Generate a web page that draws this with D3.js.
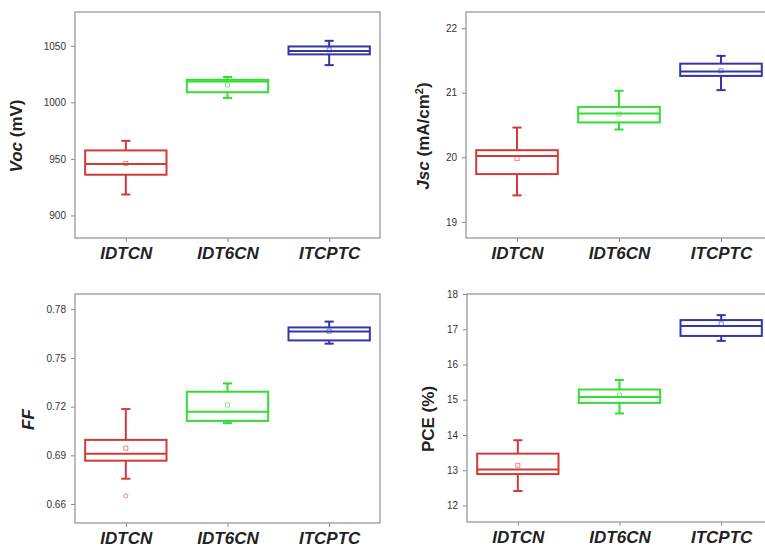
<!DOCTYPE html>
<html>
<head>
<meta charset="utf-8">
<script src="https://cdn.jsdelivr.net/npm/d3@7"></script>
<style>
  body { margin: 0; background: #fff; }
  svg { display: block; font-family: "Liberation Sans", Arial, sans-serif; }
</style>
</head>
<body>
<div id="chart"></div>
<script>
// Data: [whisker low, Q1, median, Q3, whisker high] per group
const groups = ["IDTCN", "IDT6CN", "ITCPTC"];
const colors = ["#d23a3a", "#33dd33", "#3535a8"];

const vocBoxes = [[918.5, 936, 945.5, 957.5, 966], [1004, 1009, 1018.5, 1020, 1022.5], [1033, 1042.5, 1045.5, 1049.5, 1054.5]];
const vocMeans = [946, 1015.5, 1046.5];
const vocTicks = [900, 950, 1000, 1050];

const jscBoxes = [[19.41, 19.74, 20.02, 20.11, 20.46], [20.43, 20.54, 20.68, 20.78, 21.03], [21.04, 21.26, 21.33, 21.45, 21.57]];
const jscMeans = [19.98, 20.67, 21.34];
const jscTicks = [19, 20, 21, 22];

const ffBoxes = [[0.6756, 0.6867, 0.691, 0.6995, 0.7185], [0.7098, 0.7112, 0.7169, 0.7292, 0.7343], [0.7588, 0.7608, 0.7663, 0.7688, 0.7724]];
const ffMeans = [0.6944, 0.721, 0.7665];
const ffOutliers = [[0, 0.665]];
const ffTicks = [0.66, 0.69, 0.72, 0.75, 0.78];

const pceBoxes = [[12.41, 12.89, 13.02, 13.47, 13.85], [14.61, 14.91, 15.08, 15.29, 15.56], [16.67, 16.81, 17.09, 17.26, 17.40]];
const pceMeans = [13.14, 15.13, 17.15];
const pceTicks = [12, 13, 14, 15, 16, 17, 18];

const svg = d3.select("#chart").append("svg")
  .attr("width", 765)
  .attr("height", 549);

// one panel = frame + axes + boxes
function drawPanel(p) {
  const g = svg.append("g");

  const x = d3.scaleLinear().domain([0.5, 3.5]).range([p.left, p.right]);
  const y = d3.scaleLinear().domain(p.domain).range([p.bottom, p.top]);

  // y axis
  const ya = g.append("g")
    .attr("transform", `translate(${p.left},0)`)
    .call(d3.axisLeft(y).tickValues(p.ticks).tickSize(4).tickPadding(5).tickFormat(p.fmt));
  ya.select(".domain").remove();
  ya.selectAll("line").attr("stroke", "#888");
  ya.selectAll("text").attr("font-size", 10).attr("fill", "#333");

  // x axis
  const xa = g.append("g")
    .attr("transform", `translate(0,${p.bottom})`)
    .call(d3.axisBottom(x).tickValues([1, 2, 3]).tickSize(4).tickPadding(5).tickFormat((d, i) => groups[i]));
  xa.select(".domain").remove();
  xa.selectAll("line").attr("stroke", "#888");
  xa.selectAll("text")
    .attr("font-size", 17)
    .attr("font-weight", "bold")
    .attr("font-style", "italic")
    .attr("fill", "#222");

  // frame
  g.append("rect")
    .attr("x", p.left).attr("y", p.top)
    .attr("width", p.right - p.left).attr("height", p.bottom - p.top)
    .attr("fill", "none")
    .attr("stroke", "#999")
    .attr("stroke-width", 1.3);

  const hw = 0.4, cap = 0.045;
  const box = g.append("g").selectAll("g")
    .data(p.boxes)
    .join("g")
    .attr("stroke", (d, i) => colors[i])
    .attr("stroke-width", 2)
    .attr("fill", "none");

  // whiskers
  box.append("line")
    .attr("x1", (d, i) => x(i + 1)).attr("x2", (d, i) => x(i + 1))
    .attr("y1", d => y(d[0])).attr("y2", d => y(d[1]));
  box.append("line")
    .attr("x1", (d, i) => x(i + 1)).attr("x2", (d, i) => x(i + 1))
    .attr("y1", d => y(d[3])).attr("y2", d => y(d[4]));
  box.append("line")
    .attr("x1", (d, i) => x(i + 1 - cap)).attr("x2", (d, i) => x(i + 1 + cap))
    .attr("y1", d => y(d[0])).attr("y2", d => y(d[0]));
  box.append("line")
    .attr("x1", (d, i) => x(i + 1 - cap)).attr("x2", (d, i) => x(i + 1 + cap))
    .attr("y1", d => y(d[4])).attr("y2", d => y(d[4]));
  // box
  box.append("rect")
    .attr("x", (d, i) => x(i + 1 - hw))
    .attr("width", x(1 + hw) - x(1 - hw))
    .attr("y", d => y(d[3]))
    .attr("height", d => y(d[1]) - y(d[3]))
    .attr("fill", "#fff");
  // median
  box.append("line")
    .attr("x1", (d, i) => x(i + 1 - hw)).attr("x2", (d, i) => x(i + 1 + hw))
    .attr("y1", d => y(d[2])).attr("y2", d => y(d[2]));

  // means
  g.append("g").selectAll("rect")
    .data(p.means)
    .join("rect")
    .attr("x", (d, i) => x(i + 1) - 2)
    .attr("y", d => y(d) - 2)
    .attr("width", 4).attr("height", 4)
    .attr("fill", "none")
    .attr("stroke", (d, i) => colors[i])
    .attr("stroke-opacity", 0.6)
    .attr("stroke-width", 1);

  // outliers
  g.append("g").selectAll("circle")
    .data(p.outliers || [])
    .join("circle")
    .attr("cx", d => x(d[0] + 1))
    .attr("cy", d => y(d[1]))
    .attr("r", 2)
    .attr("fill", "none")
    .attr("stroke", d => colors[d[0]])
    .attr("stroke-opacity", 0.6);

  // y title
  const t = g.append("text")
    .attr("transform", `translate(${p.titleX},${(p.top + p.bottom) / 2 + 11}) rotate(-90)`)
    .attr("text-anchor", "middle")
    .attr("dy", "0.35em")
    .attr("font-size", 17)
    .attr("font-weight", "bold")
    .attr("fill", "#222");
  p.title(t);
}

drawPanel({
  left: 75, right: 380, top: 12, bottom: 238,
  domain: [880, 1080], ticks: vocTicks, fmt: d3.format("d"),
  boxes: vocBoxes, means: vocMeans, titleX: 16,
  title: t => {
    t.append("tspan").attr("font-style", "italic").text("Voc");
    t.append("tspan").text(" (mV)");
  }
});

drawPanel({
  left: 466, right: 772, top: 12, bottom: 238,
  domain: [18.75, 22.25], ticks: jscTicks, fmt: d3.format("d"),
  boxes: jscBoxes, means: jscMeans, titleX: 423,
  title: t => {
    t.append("tspan").attr("font-style", "italic").text("Jsc");
    t.append("tspan").text(" (mA/cm");
    t.append("tspan").attr("font-size", 11).attr("baseline-shift", "super").text("2");
    t.append("tspan").text(")");
  }
});

drawPanel({
  left: 75, right: 380, top: 294, bottom: 523,
  domain: [0.6483, 0.7894], ticks: ffTicks, fmt: d3.format(".2f"),
  boxes: ffBoxes, means: ffMeans, outliers: ffOutliers, titleX: 28,
  title: t => {
    t.append("tspan").attr("font-style", "italic").text("FF");
  }
});

drawPanel({
  left: 467, right: 772, top: 294, bottom: 522,
  domain: [11.53, 18], ticks: pceTicks, fmt: d3.format("d"),
  boxes: pceBoxes, means: pceMeans, titleX: 428,
  title: t => {
    t.text("PCE (%)");
  }
});
</script>
</body>
</html>
